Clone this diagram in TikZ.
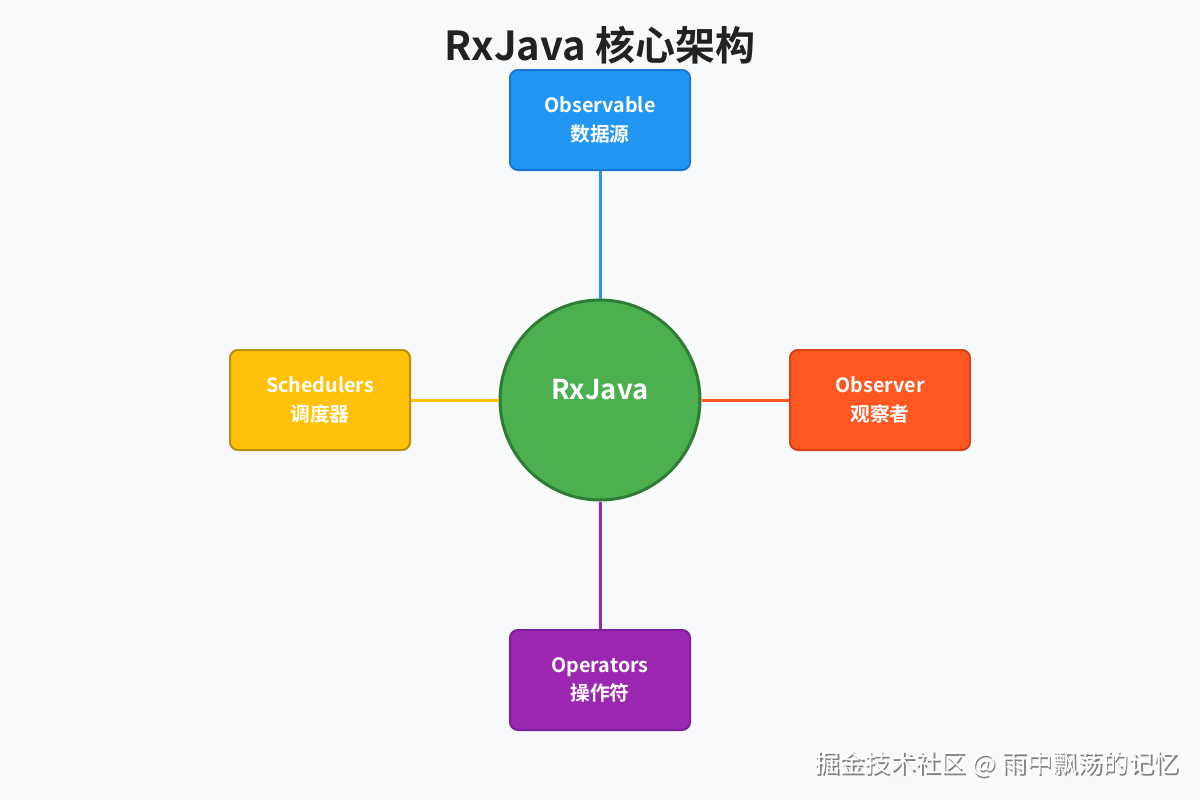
\documentclass[tikz,border=0pt]{standalone}
\usepackage{fontspec}
\setmainfont{Noto Sans CJK SC}
\newfontfamily\cjkbold{Noto Sans CJK SC Bold}
\usepackage{xcolor}
\usetikzlibrary{positioning}

\definecolor{bgpage}{HTML}{F8F9FA}
\definecolor{titleink}{HTML}{222222}
\definecolor{obsfill}{HTML}{2196F3}
\definecolor{obsdraw}{HTML}{1976D2}
\definecolor{schfill}{HTML}{FFC107}
\definecolor{schdraw}{HTML}{B8900A}
\definecolor{obvfill}{HTML}{FF5722}
\definecolor{obvdraw}{HTML}{D84315}
\definecolor{opfill}{HTML}{9C27B0}
\definecolor{opdraw}{HTML}{7B1FA2}
\definecolor{corefill}{HTML}{4CAF50}
\definecolor{coredraw}{HTML}{2E7D32}

\begin{document}
\begin{tikzpicture}[
  x=0.75pt,y=-0.75pt,
  box/.style={draw,line width=1.5pt,rounded corners=6pt,align=center,
    minimum width=135pt,minimum height=75pt,inner sep=0pt,text=white,
    font=\cjkbold\fontsize{14.8}{21.5}\selectfont},
  hub/.style={circle,draw=coredraw,fill=corefill,line width=2.25pt,
    minimum size=150pt,inner sep=0pt},
  link/.style={line width=2.25pt}
]
\fill[bgpage] (0,0) rectangle (1200,800);
\useasboundingbox (0,0) rectangle (1200,800);

\node[font=\cjkbold\fontsize{30}{36}\selectfont,text=titleink] (title) at (600,45) {RxJava 核心架构};

\node[hub] (core) at (600,400) {};
\node[text=white,font=\cjkbold\fontsize{20.5}{24}\selectfont] (corelabel) at (600,390) {RxJava};
\node[box,fill=obsfill,draw=obsdraw] (observable) at (600,120) {Observable\\数据源};
\node[box,fill=schfill,draw=schdraw] (schedulers) at (320,400) {Schedulers\\调度器};
\node[box,fill=obvfill,draw=obvdraw] (observer) at (880,400) {Observer\\观察者};
\node[box,fill=opfill,draw=opdraw] (operators) at (600,680) {Operators\\操作符};

\draw[link,obsfill] (observable) -- (core);
\draw[link,schfill] (schedulers) -- (core);
\draw[link,obvfill] (observer) -- (core);
\draw[link,opfill] (operators) -- (core);

% watermark
\node[anchor=east,text=black!50,font=\fontsize{19}{22}\selectfont] at (1185.5,765.5) {掘金技术社区 @ 雨中飘荡的记忆};
\node[anchor=east,text=white,font=\fontsize{19}{22}\selectfont] (mark) at (1184,764) {掘金技术社区 @ 雨中飘荡的记忆};
\end{tikzpicture}
\end{document}
